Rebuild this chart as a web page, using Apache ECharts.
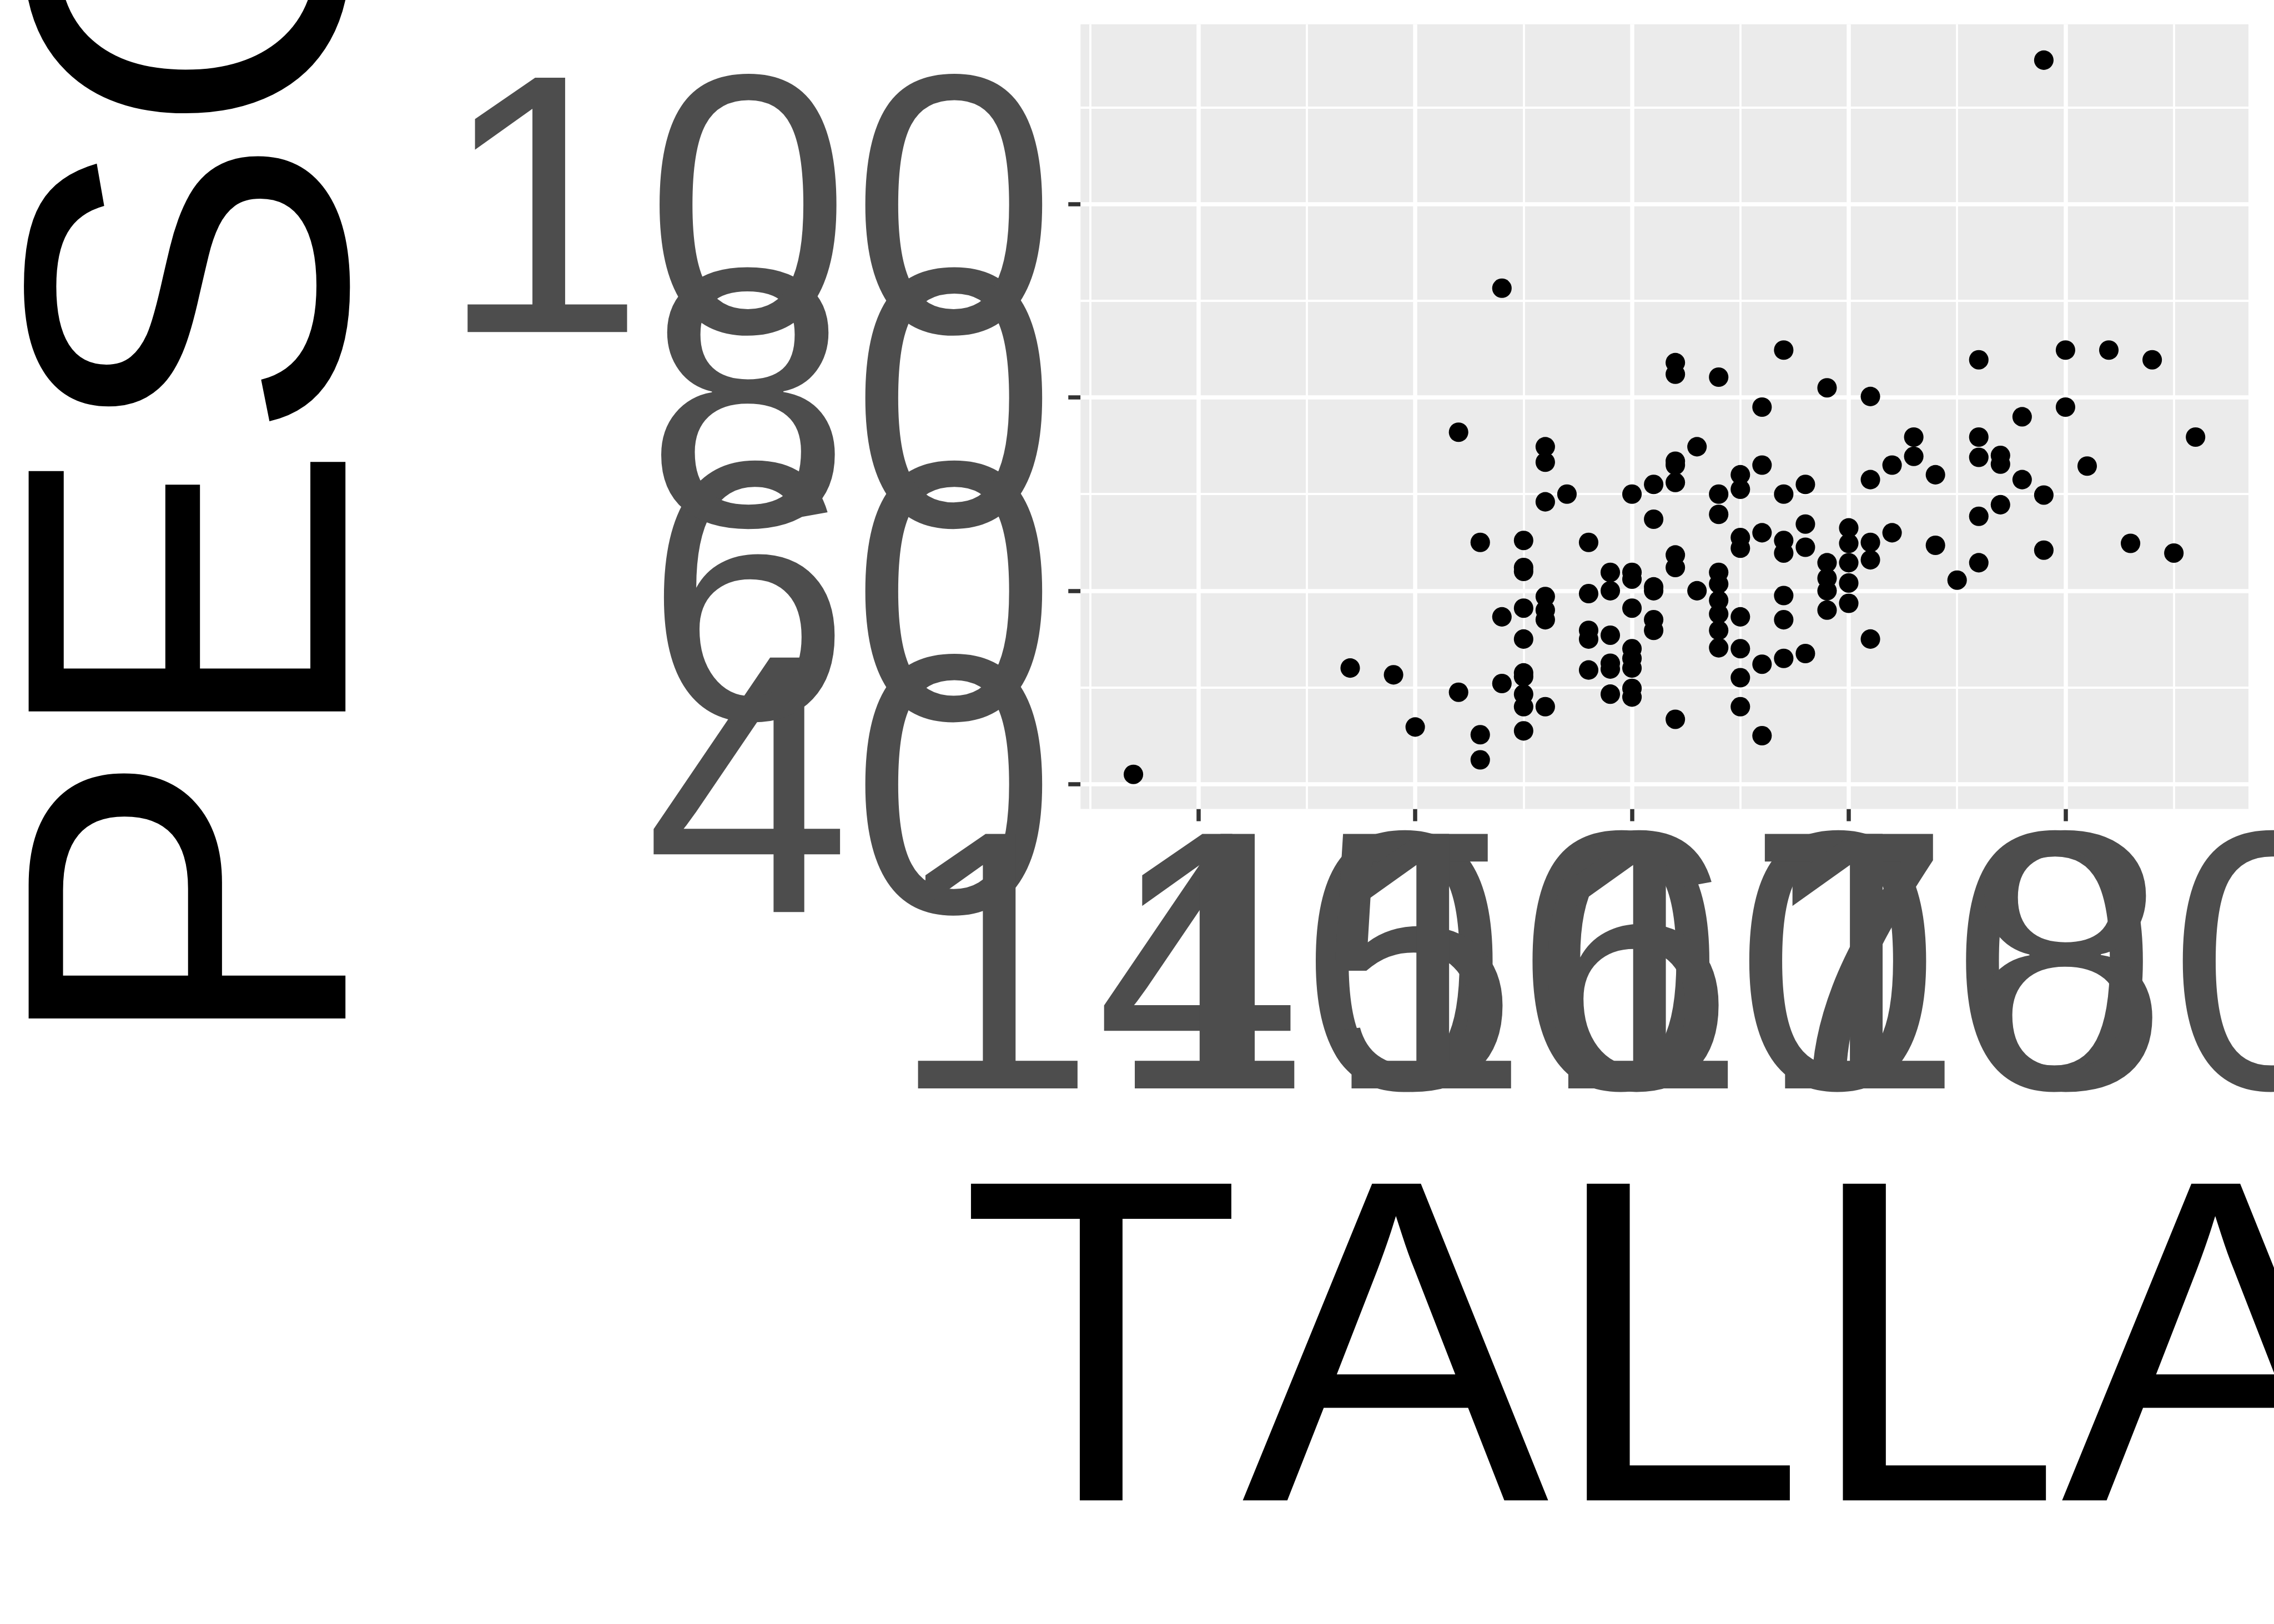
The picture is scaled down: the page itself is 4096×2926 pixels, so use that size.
<!DOCTYPE html>
<html>
<head>
<meta charset="utf-8">
<script src="https://cdn.jsdelivr.net/npm/echarts@6/dist/echarts.min.js"></script>
<style>
html,body{margin:0;padding:0;background:#fff;}
#chart{width:4096px;height:2926px;}
</style>
</head>
<body>
<div id="chart"></div>
<script>
// ---- data (TALLA in cm, PESO in kg) ----
const talla = [
  137,147,149,150,152,152,153,153,153,154,154,154,
  155,155,155,155,155,155,155,155,155,155,
  156,156,156,156,156,156,156,
  157,
  158,158,158,158,158,
  159,159,159,159,159,159,
  160,160,160,160,160,160,160,160,160,
  161,161,161,161,161,161,
  162,162,162,162,162,162,162,162,
  163,163,
  164,164,164,164,164,164,164,164,164,
  165,165,165,165,165,165,165,165,
  166,166,166,166,166,
  167,167,167,167,167,167,167,
  168,168,168,168,
  169,169,169,169,169,
  170,170,170,170,170,
  171,171,171,171,171,
  172,172,173,173,174,174,175,
  176,176,176,176,176,
  177,177,177,178,178,
  179,179,179,180,180,181,182,183,184,185,186
];
const peso = [
  41.0,52.0,51.3,45.9,76.4,49.5,65.0,45.1,42.5,91.3,57.3,50.4,
  65.2,62.4,62.0,58.2,55.0,51.5,51.1,49.3,48.0,45.5,
  74.9,73.3,69.2,59.4,58.0,57.0,48.0,
  70.0,
  65.0,59.7,55.9,55.0,51.8,
  61.9,60.0,55.4,52.5,51.9,49.3,
  70.0,61.9,61.2,58.2,54.0,53.0,52.0,49.9,49.0,
  71.0,67.4,60.4,60.0,57.0,55.9,
  83.6,82.4,73.4,73.0,71.2,63.7,62.4,46.7,
  74.9,60.0,
  82.1,70.0,67.9,61.9,60.7,59.0,57.6,55.9,54.1,
  72.0,70.5,65.5,64.4,57.3,54.0,51.0,48.0,
  79.0,73.0,66.0,52.4,45.0,
  84.9,70.0,65.2,63.9,59.5,57.0,53.0,
  71.0,66.9,64.5,53.5,
  81.0,62.9,61.3,60.0,58.0,
  66.5,64.9,62.9,60.8,58.7,
  80.1,71.5,65.0,63.2,55.0,
  73.0,66.0,75.9,73.9,72.0,64.7,61.1,
  83.9,75.9,73.8,67.7,62.9,
  74.0,73.1,68.9,78.0,71.5,
  114.9,69.9,64.2,84.9,79.0,72.9,84.9,64.9,83.9,63.9,75.9
];
// tick labels / gridline positions
const xTicks = [140,150,160,170,180];
const xMinor = [135,145,155,165,175,185];
const yTicks = [40,60,80,100];
const yMinor = [50,70,90,110];
const xTitle = 'TALLA';
const yTitle = 'PESO';

// the reference text is set without kerning
(function () {
  const proto = CanvasRenderingContext2D.prototype;
  const fill = proto.fillText, measure = proto.measureText, stroke = proto.strokeText;
  proto.fillText = function () { try { this.fontKerning = 'none'; } catch (e) {} return fill.apply(this, arguments); };
  proto.strokeText = function () { try { this.fontKerning = 'none'; } catch (e) {} return stroke.apply(this, arguments); };
  proto.measureText = function () { try { this.fontKerning = 'none'; } catch (e) {} return measure.apply(this, arguments); };
})();

const S = 0.975;
const FONT = 'Liberation Sans';
const tickFont = 670 * S * 1.02;
const titleFont = 834 * S * 1.02;
const majorW = 7.7 * S, minorW = 3.9 * S;
const X_RANGE = [134.56, 188.44];
const Y_RANGE = [37.42, 118.61];

const points = talla.map((t, i) => [t, peso[i]]);

const gridLines = []
  .concat(xMinor.map(v => ({xAxis: v, lineStyle: {width: minorW}})))
  .concat(yMinor.map(v => ({yAxis: v, lineStyle: {width: minorW}})))
  .concat(xTicks.map(v => ({xAxis: v, lineStyle: {width: majorW}})))
  .concat(yTicks.map(v => ({yAxis: v, lineStyle: {width: majorW}})));

// one axis per tick value so that ECharts never drops an overlapping label
const xAxes = xTicks.map((v, i) => ({
  type: 'value',
  gridIndex: 0,
  position: 'bottom',
  offset: 0,
  min: X_RANGE[0],
  max: X_RANGE[1],
  name: i === 0 ? xTitle : '',
  nameLocation: 'middle',
  nameGap: 602.6,
  nameMoveOverlap: false,
  nameTextStyle: {fontSize: titleFont, color: '#000000', fontFamily: FONT},
  axisLine: {show: false, onZero: false},
  splitLine: {show: false},
  minorSplitLine: {show: false},
  axisTick: {show: true, customValues: [v], length: 22.6 * S, inside: false,
    lineStyle: {color: '#333333', width: majorW}},
  axisLabel: {show: true, customValues: [v], margin: -13.5, color: '#4D4D4D',
    fontSize: tickFont, lineHeight: tickFont, fontFamily: FONT, hideOverlap: false,
    showMinLabel: true, showMaxLabel: true}
}));

const yAxes = yTicks.map((v, i) => ({
  type: 'value',
  gridIndex: 0,
  position: 'left',
  offset: 0,
  min: Y_RANGE[0],
  max: Y_RANGE[1],
  name: i === 0 ? yTitle : '',
  nameLocation: 'middle',
  nameRotate: 90,
  nameGap: 1138.3,
  nameMoveOverlap: false,
  nameTextStyle: {fontSize: titleFont, color: '#000000', fontFamily: FONT},
  axisLine: {show: false, onZero: false},
  splitLine: {show: false},
  minorSplitLine: {show: false},
  axisTick: {show: true, customValues: [v], length: 22.6 * S, inside: false,
    lineStyle: {color: '#333333', width: majorW}},
  axisLabel: {show: true, customValues: [v], margin: 43.1, color: '#4D4D4D',
    fontSize: tickFont, fontFamily: FONT, hideOverlap: false,
    verticalAlign: 'top', lineHeight: 93.6,
    showMinLabel: true, showMaxLabel: true}
}));

const chart = echarts.init(document.getElementById('chart'), null, {renderer: 'canvas'});
chart.setOption({
  animation: false,
  backgroundColor: '#FFFFFF',
  textStyle: {fontFamily: FONT},
  grid: {
    left: 1996.2 * S,
    top: 44.9 * S,
    width: (4153.8 - 1996.2) * S,
    height: (1494.9 - 44.9) * S,
    show: true,
    backgroundColor: '#EBEBEB',
    borderWidth: 0,
    containLabel: false,
    outerBoundsMode: 'none'
  },
  xAxis: xAxes,
  yAxis: yAxes,
  series: [
    {
      type: 'scatter',
      xAxisIndex: 0,
      yAxisIndex: 0,
      data: [],
      z: 1,
      silent: true,
      markLine: {
        z: 1,
        silent: true,
        symbol: ['none', 'none'],
        label: {show: false},
        lineStyle: {color: '#FFFFFF', type: 'solid', opacity: 1},
        emphasis: {disabled: true},
        animation: false,
        data: gridLines
      }
    },
    {
      type: 'scatter',
      xAxisIndex: 0,
      yAxisIndex: 0,
      z: 3,
      data: points,
      symbol: 'circle',
      symbolSize: 36 * S,
      itemStyle: {color: '#000000', opacity: 1},
      emphasis: {disabled: true},
      silent: true
    }
  ]
});
</script>
</body>
</html>
